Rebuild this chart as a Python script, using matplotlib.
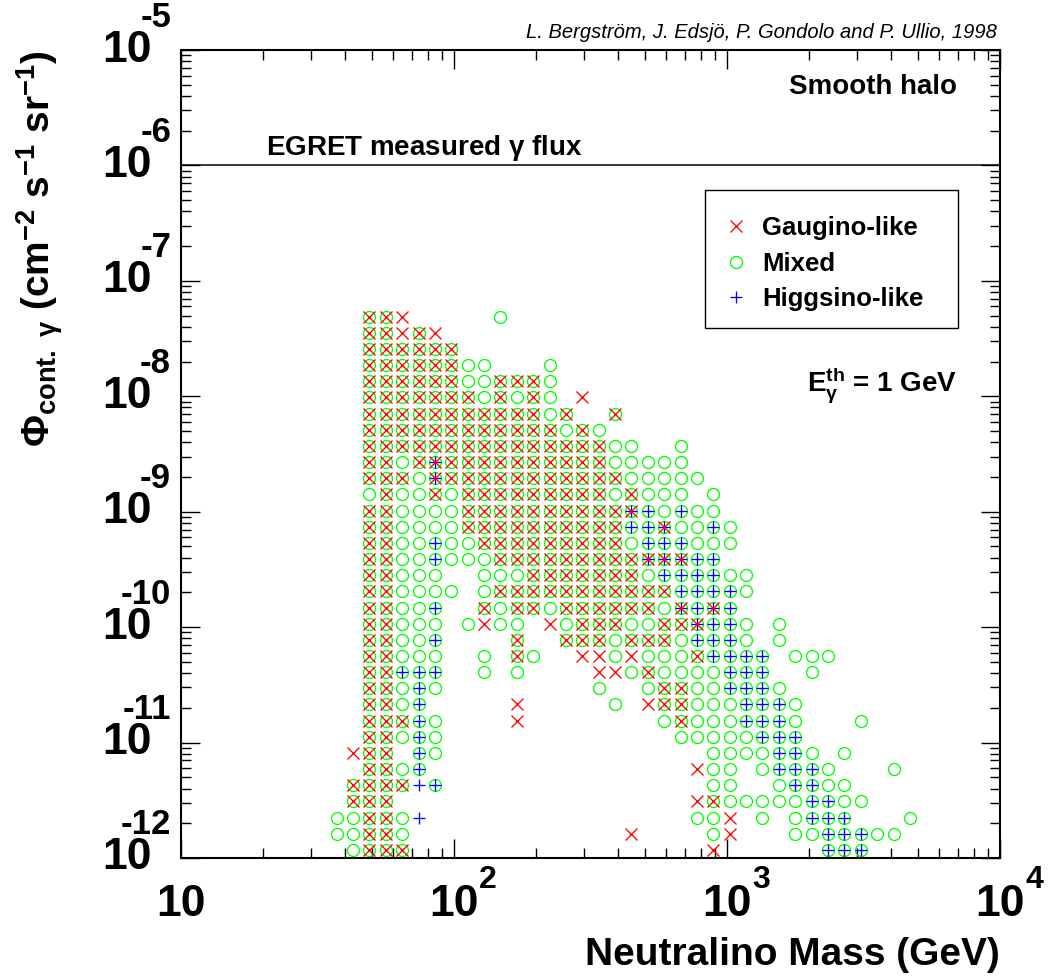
import numpy as np
import matplotlib.pyplot as plt
from matplotlib.transforms import offset_copy
from matplotlib.lines import Line2D
from matplotlib.patches import Rectangle
from matplotlib.ticker import LogLocator, NullFormatter

plt.rcParams['font.family'] = 'Liberation Sans'
plt.rcParams['font.weight'] = 'bold'
plt.rcParams['mathtext.fontset'] = 'custom'
plt.rcParams['mathtext.rm'] = 'Liberation Sans:bold'
plt.rcParams['mathtext.it'] = 'Liberation Sans:bold'
plt.rcParams['mathtext.bf'] = 'Liberation Sans:bold'

# scan is binned as a 2d histogram: 50 log bins in mass (10 - 1e4 GeV)
# and 50 log bins in flux (1e-12 - 1e-5 cm^-2 s^-1 sr^-1)
mass_edges = np.logspace(1, 4, 51)
flux_edges = np.logspace(-12, -5, 51)
first_mass_bin = 5      # first column of the maps below
top_flux_bin = 33       # first row of the maps below

# occupancy per bin: x gaugino, o mixed, b gaugino+mixed, h higgsino+mixed,
# a all three, p higgsino only, . empty (groups of 5 mass bins)
cells = [
    "..... .bbx. ....o ..... ..... ..... ..... .....",
    "..... .bbxb x.... ..... ..... ..... ..... .....",
    "..... .bbbb bb... ..... ..... ..... ..... .....",
    "..... .bbbb bboo. ..o.. ..... ..... ..... .....",
    "..... .bbbb bboob bbo.. ..... ..... ..... .....",
    "..... .bbbb bbbob obo.x ..... ..... ..... .....",
    "..... .bbbb bbbbb bbob. .b... ..... ..... .....",
    "..... .bbbb bbbbb bbbob o.... ..... ..... .....",
    "..... .bbbb bbbbb bbbbb boo.. o.... ..... .....",
    "..... .bbob abbbb bbbbb boooo o.... ..... .....",
    "..... .bbbo abbbb bbbbb bbooo oo... ..... .....",
    "..... .oboo bobbb bbbbb boboo o.o.. ..... .....",
    "..... .bboo oobbb bbbbb bbaho hoo.. ..... .....",
    "..... .bboo oobbb bbbbb bbhha ooho. ..... .....",
    "..... .bboo hoobb bbbbb bbohh hooo. ..... .....",
    "..... .bboo hooob bbbbb bbbaa ahh.. ..... .....",
    "..... .bboo o..oo obbbb bbboh hhhoo ..... .....",
    "..... .bboo oo.ob bbbbb bbbbb hhhho ..... .....",
    "..... .bboo h..bo bbobb bbbbo ahah. ..... .....",
    "..... .bboo o.oxo o.xob bboob bahho .o... .....",
    "..... .bboo h.... b..bb bobbb ohhho .o... .....",
    "..... .bboo o..o. bo..x xoxoo obhhh h.ooo .....",
    "..... .bbhh h..o. o.... xxobo ooohh h..o. .....",
    "..... .bboh o.... ..... o..ob boohh ho... .....",
    "..... .bboh ..... x.... .o.xb boooh hho.. .....",
    "..... .bbbh o.... x.... ....o boooh hho.. .o...",
    "..... .bboh o.... ..... ..... ooooo hhh.. .....",
    "..... xbb.h o.... ..... ..... ..ooo ohho. o....",
    "..... .bboh ..... ..... ..... .xoo. ohhho ...o.",
    "..... bbbbp h.... ..... ..... ..oo. .ohho o....",
    "..... bbb.. ..... ..... ..... .xboo ooohh oo...",
    "....o obbop ..... ..... ..... .oox. o.ohh h...o",
    "....o obbo. ..... ..... ..x.. ..ox. ..ooh hhoo.",
    "..... obbb. ..... ..... ..... ..x.. ....h hh...",
]
egret_flux = 1.0e-6
class_names = ['Gaugino-like', 'Mixed', 'Higgsino-like']
class_codes = {'Gaugino-like': 'xbaq', 'Mixed': 'obha', 'Higgsino-like': 'hap'}

mass_c = np.sqrt(mass_edges[:-1] * mass_edges[1:])
flux_c = np.sqrt(flux_edges[:-1] * flux_edges[1:])

pts = {n: ([], []) for n in class_names}
for r, row in enumerate(cells):
    row = row.replace(' ', '')
    j = top_flux_bin - r
    for k, c in enumerate(row):
        i = first_mass_bin + k
        for n in class_names:
            if c in class_codes[n]:
                pts[n][0].append(mass_c[i])
                pts[n][1].append(flux_c[j])

W, H = 1051, 980
fig = plt.figure(figsize=(W / 100, H / 100), dpi=100)
ax = fig.add_axes([181 / W, 1 - 858 / H, (1000 - 181) / W, (858 - 50) / H])
ax.set_xscale('log')
ax.set_yscale('log')

ms, mw = 8.6, 0.95
ax.plot(*pts['Mixed'], ls='none', marker='o', ms=ms, mfc='none', mec='#00ff00', mew=mw)
ax.plot(*pts['Higgsino-like'], ls='none', marker='+', ms=ms, color='#0000ff', mew=mw)
ax.plot(*pts['Gaugino-like'], ls='none', marker='x', ms=ms, color='#ff0000', mew=mw)

ax.axhline(egret_flux, color='black', lw=1.1)

ax.set_xlim(1e1, 1e4)
ax.set_ylim(1e-12, 1e-5)
for s in ax.spines.values():
    s.set_linewidth(1.5)
for a in (ax.xaxis, ax.yaxis):
    a.set_major_locator(LogLocator(base=10, numticks=20))
    a.set_minor_locator(LogLocator(base=10, subs=np.arange(2, 10), numticks=20))
    a.set_major_formatter(NullFormatter())
    a.set_minor_formatter(NullFormatter())
ax.tick_params(which='both', direction='in', top=True, right=True, width=1.0)
ax.tick_params(which='major', length=14)
ax.tick_params(which='minor', length=7)

# ROOT style tick labels: big "10" with exponent set up and to the right
xb = offset_copy(ax.get_xaxis_transform(), fig=fig, x=0, y=-47, units='dots')
xe = offset_copy(ax.get_xaxis_transform(), fig=fig, x=25, y=-22, units='dots')
for e in range(1, 5):
    ax.text(10.0 ** e, 0, '10', transform=xb, ha='center', va='center', fontsize=32)
    if e > 1:
        ax.text(10.0 ** e, 0, str(e), transform=xe, ha='left', va='center', fontsize=23)
yb = offset_copy(ax.get_yaxis_transform(), fig=fig, x=-29, y=0, units='dots')
ye = offset_copy(ax.get_yaxis_transform(), fig=fig, x=-10, y=33, units='dots')
for e in range(-12, -4):
    ax.text(0, 10.0 ** e, '10', transform=yb, ha='right', va='center', fontsize=32)
    ax.text(0, 10.0 ** e, str(e), transform=ye, ha='right', va='center', fontsize=25)


def px(x, y):
    return x / W, 1 - y / H


fig.text(*px(1000, 955), 'Neutralino Mass (GeV)', ha='right', va='center', fontsize=28)
fig.text(*px(40, 50), r'$\Phi_{cont.\ \gamma}$ (cm$^{-2}$ s$^{-1}$ sr$^{-1}$)',
         rotation=90, ha='center', va='top', fontsize=28)
fig.text(*px(997, 33), 'L. Bergström, J. Edsjö, P. Gondolo and P. Ullio, 1998',
         ha='right', va='center', fontsize=14.5, style='italic', weight='normal')
fig.text(*px(957, 87), 'Smooth halo', ha='right', va='center', fontsize=20)
fig.text(*px(266, 148), r'EGRET measured $\gamma$ flux', ha='left', va='center', fontsize=20)
fig.text(*px(957, 385), r'E$_{\gamma}^{th}$ = 1 GeV', ha='right', va='center', fontsize=20)

# legend
fig.patches.append(Rectangle(px(705, 328), 253 / W, 138 / H, transform=fig.transFigure,
                             fill=False, ec='black', lw=1.0))
handles = [Line2D([], [], ls='none', marker='x', ms=ms, color='#ff0000', mew=mw),
           Line2D([], [], ls='none', marker='o', ms=ms, mfc='none', mec='#00ff00', mew=mw),
           Line2D([], [], ls='none', marker='+', ms=ms, color='#0000ff', mew=mw)]
fig.legend(handles, class_names, loc='upper left', bbox_to_anchor=px(723, 216),
           frameon=False, fontsize=18.5, handlelength=1.05, handletextpad=0.47,
           borderpad=0, borderaxespad=0, labelspacing=0.45)

fig.savefig('out.png', dpi=100)
